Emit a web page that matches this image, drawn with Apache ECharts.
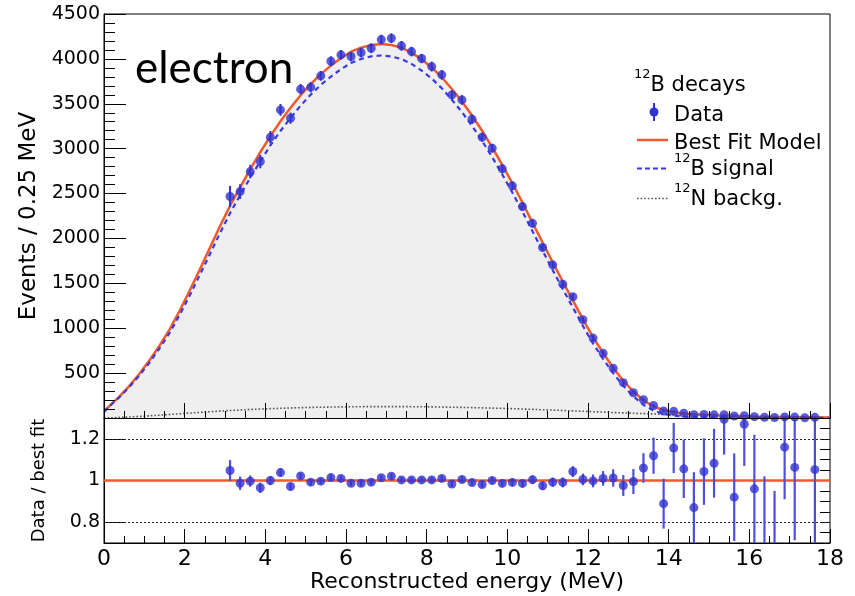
<!DOCTYPE html>
<html><head><meta charset="utf-8">
<script src="https://cdn.jsdelivr.net/npm/echarts@6/dist/echarts.min.js"></script>
<style>html,body{margin:0;padding:0;background:#fff}#c{width:855px;height:596px}</style>
</head><body><div id="c"></div>
<script>
// ---------- data ----------
const curveE = [0, 0.125, 0.375, 0.625, 0.875, 1.125, 1.375, 1.625, 1.875, 2.125, 2.375, 2.625, 2.875,
  3.125, 3.375, 3.625, 3.875, 4.125, 4.375, 4.625, 4.875, 5.125, 5.375, 5.625, 5.875, 6.125, 6.375, 6.625, 6.875,
  7.125, 7.375, 7.625, 7.875, 8.125, 8.375, 8.625, 8.875, 9.125, 9.375, 9.625, 9.875, 10.125, 10.375, 10.625, 10.875,
  11.125, 11.375, 11.625, 11.875, 12.125, 12.375, 12.625, 12.875, 13.125, 13.375, 13.625, 13.875, 14.125, 14.375,
  14.625, 14.875, 15.125, 15.375, 15.625, 15.875, 16.125, 16.375, 16.625, 16.875, 17.125, 17.375, 17.625, 17.875, 18];
const fitCurve = [70, 130, 235, 355, 490, 640, 805, 985, 1195, 1420, 1655, 1895, 2135,
  2365, 2570, 2770, 2960, 3140, 3305, 3455, 3595, 3720, 3830, 3925, 4010, 4080, 4125, 4155, 4165,
  4155, 4125, 4070, 3995, 3905, 3795, 3665, 3525, 3370, 3200, 3015, 2820, 2615, 2400, 2175, 1955,
  1735, 1520, 1310, 1100, 900, 725, 560, 415, 295, 195, 128, 88, 64, 51,
  43, 37, 32, 28, 24, 20, 16, 13, 11, 10, 9, 8, 7, 6, 5];
const signalCurve = [70, 128, 229, 344, 473, 616, 774, 946, 1148, 1365, 1593, 1825, 2058,
  2282, 2481, 2675, 2860, 3036, 3197, 3343, 3480, 3602, 3710, 3803, 3886, 3955, 3999, 4028, 4038,
  4028, 3998, 3944, 3870, 3781, 3673, 3545, 3407, 3254, 3087, 2905, 2713, 2511, 2300, 2079, 1863,
  1647, 1436, 1231, 1025, 830, 659, 499, 358, 242, 146, 83, 47, 26, 16,
  11, 8, 6, 5, 4, 3, 2, 1, 1, 1, 1, 1, 1, 1, 0];
const bkgCurve = [0, 2, 6, 11, 17, 24, 31, 39, 47, 55, 62, 70, 77,
  83, 89, 95, 100, 104, 108, 112, 115, 118, 120, 122, 124, 125, 126, 127, 127,
  127, 127, 126, 125, 124, 122, 120, 118, 116, 113, 110, 107, 104, 100, 96, 92,
  88, 84, 79, 75, 70, 66, 61, 57, 53, 49, 45, 41, 38, 35,
  32, 29, 26, 23, 20, 17, 14, 12, 10, 9, 8, 7, 6, 5, 5];

const dataE = [3.125, 3.375, 3.625, 3.875, 4.125, 4.375, 4.625, 4.875, 5.125, 5.375, 5.625, 5.875,
  6.125, 6.375, 6.625, 6.875, 7.125, 7.375, 7.625, 7.875, 8.125, 8.375, 8.625, 8.875, 9.125, 9.375,
  9.625, 9.875, 10.125, 10.375, 10.625, 10.875, 11.125, 11.375, 11.625, 11.875, 12.125, 12.375, 12.625,
  12.875, 13.125, 13.375, 13.625, 13.875, 14.125, 14.375, 14.625, 14.875, 15.125, 15.375, 15.625,
  15.875, 16.125, 16.375, 16.625, 16.875, 17.125, 17.375, 17.625];
const dataCounts = [2467, 2522, 2745, 2856, 3128, 3432, 3340, 3663, 3685, 3811, 3974, 4045,
  4026, 4070, 4119, 4215, 4230, 4145, 4081, 4004, 3914, 3822, 3599, 3543, 3329, 3128,
  3006, 2775, 2586, 2355, 2168, 1899, 1706, 1491, 1350, 1094, 890, 720, 553,
  394, 281, 203, 139, 78, 74, 54, 37, 39, 35, 36, 22,
  25, 15, 8, 6, 12, 10, 3, 7];
const dataErr = [118, 82, 75, 74, 69, 66, 62, 58, 56, 54, 55, 52,
  53, 54, 54, 54, 54, 54, 53, 52, 55, 53, 51, 53, 51, 51,
  48, 48, 47, 46, 44, 41, 38, 36, 34, 31, 28, 25, 24,
  21, 18, 14, 11, 11, 8, 7, 7, 6, 5, 5, 5,
  4, 4, 5, 4, 3, 3, 2, 3];
const ratioVals = [1.048, 0.987, 0.997, 0.965, 1.0, 1.038, 0.971, 1.022, 0.992, 0.997, 1.014, 1.01,
  0.987, 0.987, 0.992, 1.013, 1.021, 1.003, 1.003, 1.003, 1.003, 1.01, 0.983, 1.005, 0.99, 0.981,
  1.0, 0.986, 0.991, 0.986, 1.004, 0.975, 0.992, 0.991, 1.043, 1.005, 0.998, 1.01, 1.012,
  0.976, 0.995, 1.06, 1.119, 0.889, 1.156, 1.056, 0.87, 1.043, 1.083, 1.294, 0.92,
  1.27, 0.96, 0.65, 0.55, 1.16, 1.063, null, 1.052];
const ratioErr = [0.05, 0.032, 0.027, 0.025, 0.022, 0.02, 0.018, 0.016, 0.015, 0.014, 0.014, 0.013,
  0.013, 0.013, 0.013, 0.013, 0.013, 0.013, 0.013, 0.013, 0.014, 0.014, 0.014, 0.015, 0.015, 0.016,
  0.016, 0.017, 0.018, 0.019, 0.02, 0.021, 0.022, 0.024, 0.026, 0.028, 0.031, 0.035, 0.042,
  0.05, 0.06, 0.071, 0.087, 0.12, 0.12, 0.14, 0.17, 0.16, 0.165, 0.17, 0.21,
  0.2, 0.26, 0.37, 0.4, 0.25, 0.35, null, 0.4];
const ratioFitLine = [[0, 1], [18, 1]];
const refLines = [0.8, 1.2];
const yTopTicks = [0, 4500, 500];
const ratioLabelVals = [0.8, 1, 1.2];

// ---------- chart ----------
const FONT = 'DejaVu Sans';
const BLUE = '#3232cf';
const RED = '#f05a2c';
const chart = echarts.init(document.getElementById('c'), null, {renderer: 'canvas'});

const pairs = (xs, ys) => xs.map((x, i) => [x, ys[i]]);
const triples = (xs, ys, es) => xs.map((x, i) => [x, ys[i], es[i]]).filter(d => d[1] != null && d[2] != null);

function errRender(color, w) {
  return function (params, api) {
    const x = api.value(0), y = api.value(1), e = api.value(2);
    if (!isFinite(y) || !isFinite(e)) return null;
    const cs = params.coordSys;
    const t = api.coord([x, y + e]), b = api.coord([x, y - e]);
    const y1 = Math.max(t[1], cs.y), y2 = Math.min(b[1], cs.y + cs.height);
    if (y2 <= y1) return null;
    return {type: 'line', shape: {x1: t[0], y1: y1, x2: t[0], y2: y2},
      style: {stroke: color, lineWidth: w}};
  };
}

const axisCommon = {
  type: 'value', min: 0, max: 18, interval: 2, z: 10,
  axisLine: {show: true, lineStyle: {color: '#000', width: 1}},
  axisTick: {show: true, inside: true, length: 15, lineStyle: {color: '#000', width: 1}},
  minorTick: {show: true, splitNumber: 4, length: 7, lineStyle: {color: '#000', width: 1}},
  splitLine: {show: false}, minorSplitLine: {show: false}
};

const supRich = {
  s: {fontSize: 13, fontFamily: FONT, color: '#000', padding: [0, 0, 15, 0], verticalAlign: 'bottom'},
  m: {fontSize: 21, fontFamily: FONT, color: '#000', verticalAlign: 'bottom'}
};

const option = {
  animation: false,
  backgroundColor: '#fff',
  grid: [
    {left: 104, right: 25, top: 14, height: 404, show: true, borderColor: '#000', borderWidth: 1, backgroundColor: '#fff'},
    {left: 104, right: 25, top: 418, height: 125, show: true, borderColor: '#000', borderWidth: 1, backgroundColor: '#fff'}
  ],
  xAxis: [
    Object.assign({}, axisCommon, {gridIndex: 0, axisLabel: {show: false}}),
    Object.assign({}, axisCommon, {gridIndex: 1, z: 1, axisTick: {show: true, inside: true, length: 14, lineStyle: {color: '#000'}},
      axisLabel: {show: true, fontFamily: FONT, fontSize: 22, color: '#000', margin: 5},
      name: 'Reconstructed energy (MeV)', nameLocation: 'middle', nameGap: 25,
      nameTextStyle: {fontFamily: FONT, fontSize: 22, color: '#000'}})
  ],
  yAxis: [
    {gridIndex: 0, type: 'value', min: yTopTicks[0], max: yTopTicks[1], interval: yTopTicks[2], z: 10,
      axisLine: {show: true, lineStyle: {color: '#000'}},
      axisTick: {show: true, inside: true, length: 22, lineStyle: {color: '#000'}},
      minorTick: {show: true, splitNumber: 5, length: 11, lineStyle: {color: '#000'}},
      splitLine: {show: false}, minorSplitLine: {show: false},
      axisLabel: {fontFamily: FONT, fontSize: 19, color: '#000', margin: 4, formatter: v => v === 0 ? '' : String(v)},
      name: 'Events / 0.25 MeV', nameLocation: 'middle', nameRotate: 90, nameGap: 63,
      nameTextStyle: {fontFamily: FONT, fontSize: 23, color: '#000'}},
    {gridIndex: 1, type: 'value', min: 0.7, max: 1.3, z: 1,
      axisLine: {show: true, lineStyle: {color: '#000'}},
      axisTick: {show: true, inside: true, length: 20, customValues: ratioLabelVals, lineStyle: {color: '#000'}},
      splitLine: {show: false},
      axisLabel: {customValues: ratioLabelVals, fontFamily: FONT, fontSize: 19, color: '#000', margin: 4,
        formatter: v => Math.abs(v - 1) < 1e-9 ? '1' : v.toFixed(1)},
      name: 'Data / best fit', nameLocation: 'middle', nameRotate: 90, nameGap: 56,
      nameTextStyle: {fontFamily: FONT, fontSize: 18, color: '#000'}},
    {gridIndex: 1, type: 'value', min: 0.7, max: 1.3, interval: 0.05, z: 1,
      axisLine: {show: false},
      axisTick: {show: true, inside: true, length: 10, lineStyle: {color: '#000'}},
      axisLabel: {show: false}, splitLine: {show: false}}
  ],
  series: [
    {type: 'line', xAxisIndex: 0, yAxisIndex: 0, data: pairs(curveE, fitCurve), showSymbol: false, silent: true,
      lineStyle: {width: 0, opacity: 0}, areaStyle: {color: '#efefef', opacity: 1}, z: 1},
    {type: 'line', name: '12N backg.', xAxisIndex: 0, yAxisIndex: 0, data: pairs(curveE, bkgCurve), showSymbol: false,
      lineStyle: {color: '#555', width: 1.6, type: [1.6, 2]}, z: 2},
    {type: 'line', name: 'Best Fit Model', xAxisIndex: 0, yAxisIndex: 0, data: pairs(curveE, fitCurve), showSymbol: false,
      lineStyle: {color: RED, width: 2.5}, z: 3},
    {type: 'line', name: '12B signal', xAxisIndex: 0, yAxisIndex: 0, data: pairs(curveE, signalCurve), showSymbol: false,
      lineStyle: {color: '#3a3ae0', width: 2.2, type: [5, 4]}, z: 4},
    {type: 'custom', xAxisIndex: 0, yAxisIndex: 0, data: triples(dataE, dataCounts, dataErr),
      renderItem: errRender(BLUE, 2), clip: true, z: 5, silent: true},
    {type: 'scatter', name: 'Data', xAxisIndex: 0, yAxisIndex: 0, data: pairs(dataE, dataCounts), symbolSize: 9,
      itemStyle: {color: BLUE}, z: 6, clip: true},
    {type: 'line', xAxisIndex: 1, yAxisIndex: 1, data: ratioFitLine, showSymbol: false, lineStyle: {color: RED, width: 2.5}, z: 3,
      markLine: {silent: true, symbol: ['none', 'none'], label: {show: false},
        lineStyle: {color: '#222', type: [2, 2], width: 1.2}, data: refLines.map(v => ({yAxis: v}))}},
    {type: 'custom', xAxisIndex: 1, yAxisIndex: 1, data: triples(dataE, ratioVals, ratioErr),
      renderItem: errRender('#4f4fdc', 2.2), clip: true, z: 5, silent: true},
    {type: 'scatter', xAxisIndex: 1, yAxisIndex: 1, data: triples(dataE, ratioVals, ratioErr).map(d => [d[0], d[1]]),
      symbolSize: 9, itemStyle: {color: BLUE}, z: 6, clip: true}
  ],
  graphic: [
    {type: 'text', left: 135, top: 47, z: 100,
      style: {text: 'electron', font: '44px Lato', fill: '#000'}},
    {type: 'group', z: 100, children: [
      {type: 'text', x: 634, y: 96, style: {text: '{s|12}{m|B decays}', rich: supRich, verticalAlign: 'bottom', align: 'left'}},
      {type: 'line', shape: {x1: 654, y1: 103, x2: 654, y2: 121}, style: {stroke: BLUE, lineWidth: 2}},
      {type: 'circle', shape: {cx: 654, cy: 112, r: 4.5}, style: {fill: BLUE}},
      {type: 'text', x: 674, y: 126, style: {text: 'Data', font: '21px "DejaVu Sans"', fill: '#000', verticalAlign: 'bottom'}},
      {type: 'line', shape: {x1: 637, y1: 140, x2: 668, y2: 140}, style: {stroke: RED, lineWidth: 2.5}},
      {type: 'text', x: 674, y: 154, style: {text: 'Best Fit Model', font: '21px "DejaVu Sans"', fill: '#000', verticalAlign: 'bottom'}},
      {type: 'line', shape: {x1: 637, y1: 168.5, x2: 668, y2: 168.5}, style: {stroke: '#3a3ae0', lineWidth: 2, lineDash: [5, 3]}},
      {type: 'text', x: 674, y: 180, style: {text: '{s|12}{m|B signal}', rich: supRich, verticalAlign: 'bottom', align: 'left'}},
      {type: 'line', shape: {x1: 637, y1: 198.5, x2: 668, y2: 198.5}, style: {stroke: '#555', lineWidth: 1.6, lineDash: [1.6, 2]}},
      {type: 'text', x: 674, y: 210, style: {text: '{s|12}{m|N backg.}', rich: supRich, verticalAlign: 'bottom', align: 'left'}}
    ]}
  ]
};
chart.setOption(option);
</script>
</body></html>
